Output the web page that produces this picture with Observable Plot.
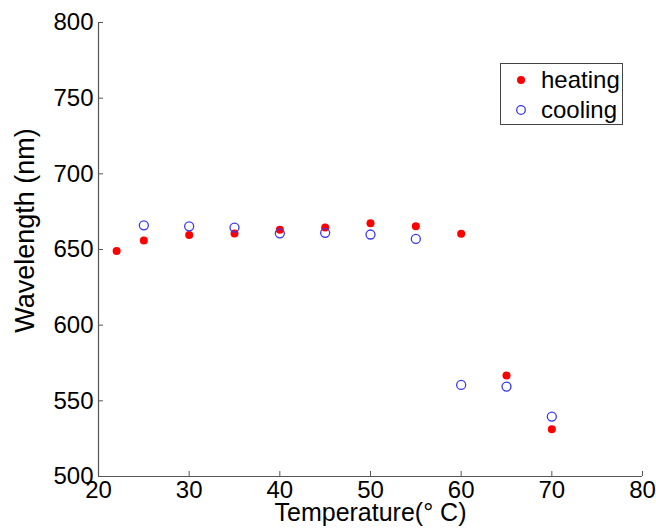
<!DOCTYPE html>
<html>
<head>
<meta charset="utf-8">
<script src="https://cdn.jsdelivr.net/npm/d3@7"></script>
<script src="https://cdn.jsdelivr.net/npm/@observablehq/plot@0.6"></script>
<style>
  html, body { margin: 0; padding: 0; background: #fff; }
  #wrap { position: relative; width: 656px; height: 529px; font-family: "Liberation Sans", Arial, sans-serif; }
  #legend { position: absolute; left: 500px; top: 63px; width: 123px; height: 62px; border: 1px solid #444; background: #fff; box-sizing: border-box; font-size: 24px; color: #000; }
  .row { position: absolute; left: 0; height: 28px; display: flex; align-items: center; }
  .sym { width: 40px; display: flex; justify-content: center; }
</style>
</head>
<body>
<div id="wrap"></div>
<script>
const temps = [22, 25, 30, 35, 40, 45, 50, 55, 60, 65, 70];
const heating = [649, 656, 659.5, 660.5, 663, 664.5, 667.3, 665.3, 660.4, 566.7, 531.3];
const coolingTemps = [25, 30, 35, 40, 45, 50, 55, 60, 65, 70];
const cooling = [666, 665.3, 664.5, 660.7, 661, 659.9, 657, 560.5, 559.4, 539.6];
const xTicks = [20, 30, 40, 50, 60, 70, 80];
const yTicks = [500, 550, 600, 650, 700, 750, 800];
const seriesNames = ["heating", "cooling"];

const heatData = temps.map((t, i) => ({t, w: heating[i]}));
const coolData = coolingTemps.map((t, i) => ({t, w: cooling[i]}));

const font = "Liberation Sans, Arial, sans-serif";
const axisColor = "#555";

const chart = Plot.plot({
  width: 656,
  height: 529,
  marginLeft: 98,
  marginRight: 14,
  marginTop: 22,
  marginBottom: 53,
  style: {fontFamily: font, fontSize: "24px", color: "#000", background: "#fff"},
  x: {domain: [20, 80], label: null},
  y: {domain: [500, 800], label: null},
  marks: [
    Plot.ruleX([20], {stroke: axisColor, strokeWidth: 1.2}),
    Plot.ruleY([500], {stroke: axisColor, strokeWidth: 1.2}),
    Plot.axisX({ticks: xTicks, tickSize: 5, dy: -5, text: null, stroke: axisColor, label: null}),
    Plot.axisY({ticks: yTicks, tickSize: 5, dx: 5, text: null, stroke: axisColor, label: null}),
    Plot.axisX({ticks: xTicks, tickSize: 0, tickPadding: 4, fontSize: 24, fill: "#000", label: null}),
    Plot.axisY({ticks: yTicks, tickSize: 0, tickPadding: 5, fontSize: 24, fill: "#000", label: null}),
    Plot.text(["Temperature(° C)"], {frameAnchor: "bottom", lineAnchor: "middle", dy: 36, fontSize: 25, fill: "#000"}),
    Plot.text(["Wavelength (nm)"], {frameAnchor: "left", textAnchor: "middle", dx: -73, dy: -19, rotate: -90, fontSize: 27, fill: "#000"}),
    Plot.dot(heatData, {x: "t", y: "w", r: 4, fill: "#ff0000", stroke: "none"}),
    Plot.dot(coolData, {x: "t", y: "w", r: 4.5, fill: "none", stroke: "#3a3aee", strokeWidth: 1.3})
  ]
});

const wrap = document.getElementById("wrap");
wrap.appendChild(chart);

const legend = document.createElement("div");
legend.id = "legend";
legend.innerHTML = `
  <div class="row" style="top:2px"><span class="sym"><svg width="10" height="10"><circle cx="5" cy="5" r="4" fill="#ff0000"/></svg></span><span>${seriesNames[0]}</span></div>
  <div class="row" style="top:32px"><span class="sym"><svg width="12" height="12"><circle cx="6" cy="6" r="4.3" fill="none" stroke="#3a3aee" stroke-width="1.3"/></svg></span><span>${seriesNames[1]}</span></div>`;
wrap.appendChild(legend);
</script>
</body>
</html>
